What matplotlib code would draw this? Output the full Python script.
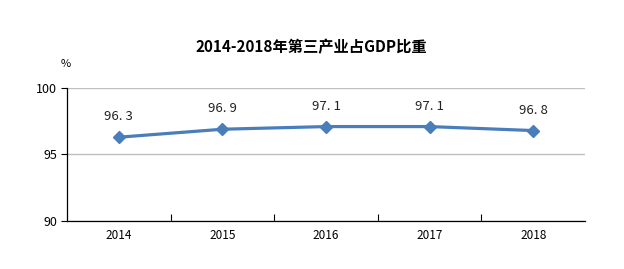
import matplotlib
matplotlib.use("Agg")
import matplotlib.pyplot as plt

plt.rcParams['font.family'] = ['Noto Sans CJK SC', 'DejaVu Sans']

years = ["2014", "2015", "2016", "2017", "2018"]
values = [96.3, 96.9, 97.1, 97.1, 96.8]
labels = ["96. 3", "96. 9", "97. 1", "97. 1", "96. 8"]
yticks = [90, 95, 100]
title = "2014-2018年第三产业占GDP比重"

fig = plt.figure(figsize=(6.24, 2.69), dpi=100)
ax = fig.add_axes([67/624, 1-221/269, (585-67)/624, (221-88)/269])

x = list(range(len(years)))
ax.plot(x, values, color="#4a7ebb", lw=2.3, marker="D", ms=6, mfc="#4a7ebb", mec="#4a7ebb", zorder=3)
for xi, v, lab in zip(x, values, labels):
    ax.annotate(lab, (xi, v), xytext=(0, 10), textcoords="offset points",
                ha="center", va="bottom", fontsize=9.5, color="#222222")

ax.set_xlim(-0.5, len(years)-0.5)
ax.set_ylim(90, 100)
ax.set_yticks(yticks)
ax.set_yticklabels([str(t) for t in yticks], fontsize=9)
ax.set_xticks(x)
ax.set_xticklabels(years, fontsize=8.5)
ax.tick_params(axis='x', length=0, pad=6)
ax.set_xticks([i+0.5 for i in range(len(years)-1)], minor=True)
ax.tick_params(axis='x', which='minor', direction='in', length=5, width=0.8)
ax.tick_params(axis='y', length=4, width=0.8, direction='out', pad=3)
ax.grid(axis='y', color="#bfbfbf", lw=1)
ax.set_axisbelow(True)
for s in ["top", "right"]:
    ax.spines[s].set_visible(False)
for s in ["left", "bottom"]:
    ax.spines[s].set_linewidth(0.9)
    ax.spines[s].set_color("black")

fig.text(311/624, 1-47/269, title, ha="center", va="center", fontsize=11, fontweight="bold")
fig.text(66/624, 1-64/269, "%", ha="center", va="center", fontsize=8)

fig.savefig("out.png", dpi=100)
